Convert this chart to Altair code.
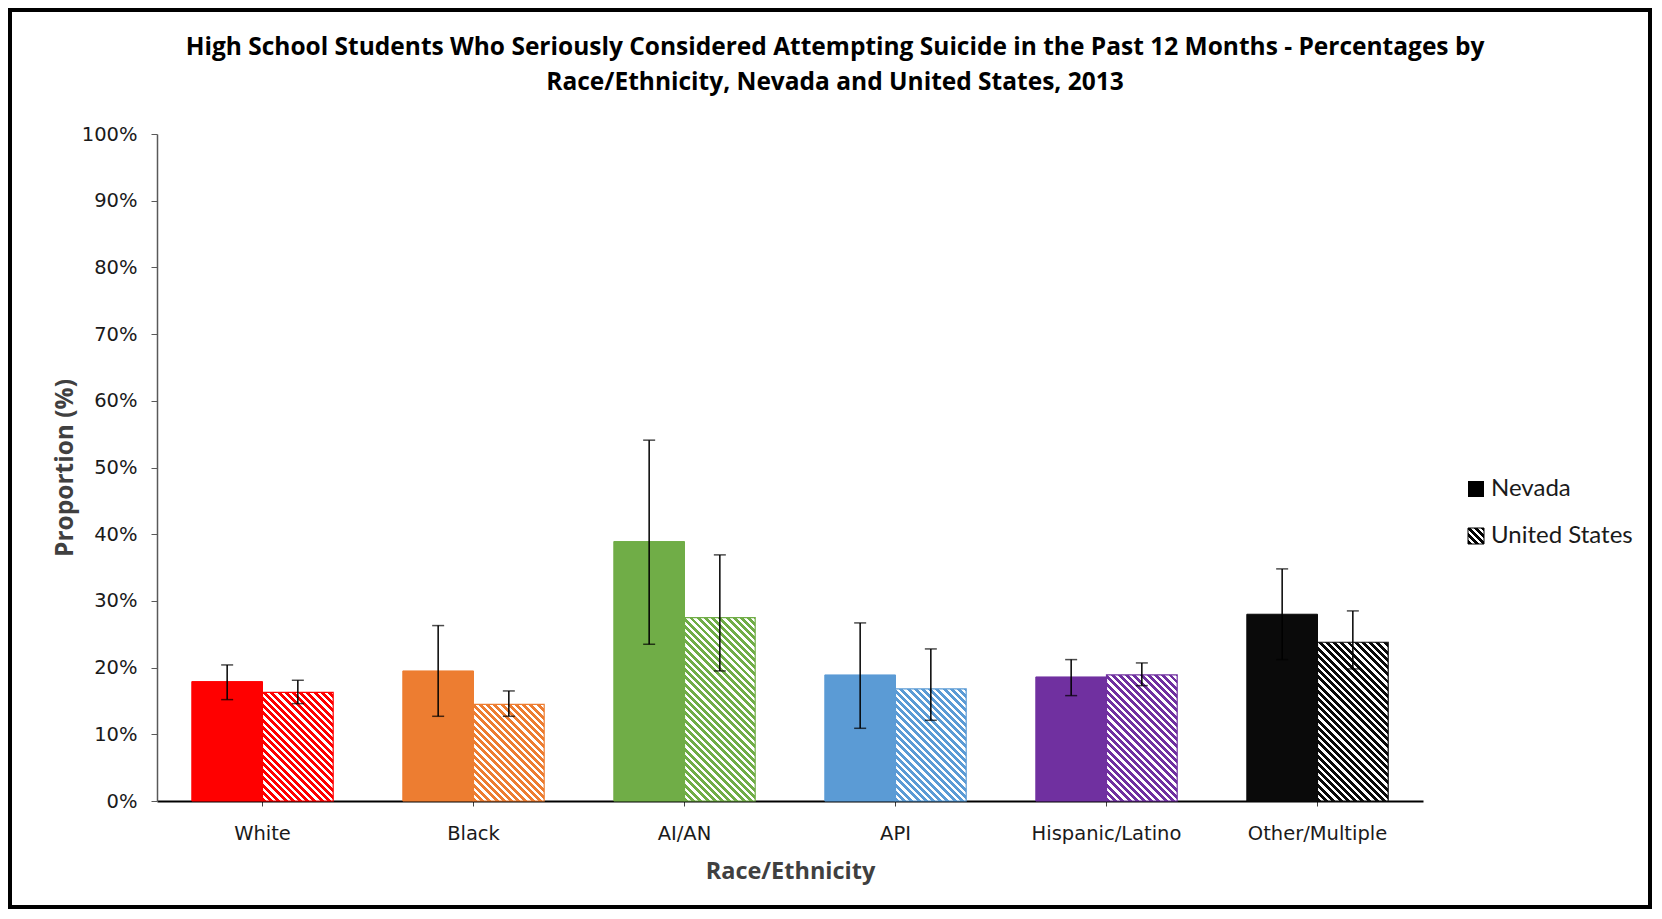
import altair as alt
import pandas as pd

categories = ["White", "Black", "AI/AN", "API", "Hispanic/Latino", "Other/Multiple"]
series = ["Nevada", "United States"]
nevada = [17.9, 19.5, 38.9, 18.9, 18.6, 28.0]
nevada_lo = [15.2, 12.7, 23.5, 10.9, 15.8, 21.2]
nevada_hi = [20.4, 26.3, 54.1, 26.7, 21.2, 34.8]
us = [16.3, 14.5, 27.5, 16.8, 18.9, 23.8]
us_lo = [14.6, 12.7, 19.5, 12.1, 17.3, 19.8]
us_hi = [18.1, 16.5, 36.9, 22.8, 20.7, 28.5]
colors = ["#FF0000", "#ED7D31", "#70AD47", "#5B9BD5", "#7030A0", "#0A0A0A"]
y_ticks = list(range(0, 101, 10))
title_lines = [
    "High School Students Who Seriously Considered Attempting Suicide in the Past 12 Months - Percentages by",
    "Race/Ethnicity, Nevada and United States, 2013",
]

W, H = 1266, 667
PAD_IN = 0.33
step = W / len(categories)
bar_w = step * (1 - PAD_IN) / 2

rows = []
for i, c in enumerate(categories):
    rows.append({"category": c, "series": "Nevada", "value": nevada[i], "lo": nevada_lo[i], "hi": nevada_hi[i]})
    rows.append({"category": c, "series": "United States", "value": us[i], "lo": us_lo[i], "hi": us_hi[i]})
df = pd.DataFrame(rows)


def hatch(color, w, h, period=5.1, frac=0.55):
    """45-degree downward-diagonal stripes as a linear gradient (bounding-box units)."""
    L = (w + h) / 2 ** 0.5
    stops = []
    k = 0
    while k * period / L < 1:
        a = k * period / L
        b = min((k + frac) * period / L, 1.0)
        c = min((k + 1) * period / L, 1.0)
        stops += [
            alt.GradientStop(offset=a, color=color),
            alt.GradientStop(offset=b, color=color),
            alt.GradientStop(offset=b, color="white"),
            alt.GradientStop(offset=c, color="white"),
        ]
        k += 1
    kk = (w + h) / (w * w + h * h)
    return alt.Gradient(
        gradient="linear", stops=stops,
        x1=0, y1=1, x2=w * kk, y2=1 - h * kk,
    )


x_enc = alt.X(
    "category:N", sort=categories,
    scale=alt.Scale(domain=categories, paddingInner=PAD_IN, paddingOuter=PAD_IN / 2),
    axis=alt.Axis(
        title="Race/Ethnicity", labelAngle=0, labelFont="DejaVu Sans", labelFontSize=19.5,
        labelColor="#1a1a1a", labelPadding=18, tickSize=5, tickColor="#404040",
        domainColor="#000000", domainWidth=2, titleFont="Open Sans", titleFontSize=23.5,
        titleFontWeight="bold", titleColor="#404040", titlePadding=17,
    ),
)
xo_enc = alt.XOffset("series:N", sort=series, scale=alt.Scale(domain=series, paddingInner=0, paddingOuter=0))
y_scale = alt.Scale(domain=[0, 100], nice=False)
y_axis = alt.Axis(
    values=y_ticks, labelExpr="datum.value + '%'", grid=False, title="Proportion (%)",
    labelFont="DejaVu Sans", labelFontSize=19.5, labelColor="#1a1a1a", labelPadding=14,
    tickSize=6, tickColor="#595959", domainColor="#595959", domainWidth=1.5,
    titleFont="Open Sans", titleFontSize=24.5, titleFontWeight="bold", titleColor="#404040",
    titlePadding=4,
)

base = alt.Chart(df)

nv_bars = base.transform_filter(alt.datum.series == "Nevada").mark_bar(strokeWidth=1).encode(
    x=x_enc, xOffset=xo_enc,
    y=alt.Y("value:Q", scale=y_scale, axis=y_axis),
    color=alt.Color("category:N", scale=alt.Scale(domain=categories, range=colors), legend=None),
    stroke=alt.Stroke("category:N", scale=alt.Scale(domain=categories, range=colors), legend=None),
)

us_layers = []
for i, c in enumerate(categories):
    h = us[i] / 100 * H
    us_layers.append(
        base.transform_filter((alt.datum.series == "United States") & (alt.datum.category == c))
        .mark_bar(fill=hatch(colors[i], bar_w, h), stroke=colors[i], strokeWidth=1.2)
        .encode(x=x_enc, xOffset=xo_enc, y=alt.Y("value:Q", scale=y_scale, axis=y_axis))
    )

err_rule = base.mark_rule(color="black", strokeWidth=1.5).encode(
    x=x_enc, xOffset=xo_enc,
    y=alt.Y("lo:Q", scale=y_scale, axis=y_axis), y2="hi:Q",
)
cap_lo = base.mark_tick(color="black", thickness=1.5, size=12, orient="horizontal").encode(
    x=x_enc, xOffset=xo_enc, y=alt.Y("lo:Q", scale=y_scale, axis=y_axis)
)
cap_hi = base.mark_tick(color="black", thickness=1.5, size=12, orient="horizontal").encode(
    x=x_enc, xOffset=xo_enc, y=alt.Y("hi:Q", scale=y_scale, axis=y_axis)
)

# legend (drawn manually to show the hatch)
LX, LY1, LY2, S = 1319, 355, 402, 16
leg_nv = alt.Chart(alt.Data(values=[{"label": series[0]}])).mark_rect(fill="black").encode(
    x=alt.value(LX - S / 2), x2=alt.value(LX + S / 2), y=alt.value(LY1 - S / 2), y2=alt.value(LY1 + S / 2)
)
leg_us = alt.Chart(alt.Data(values=[{"label": series[1]}])).mark_rect(
    fill=hatch("black", S, S, period=5.0, frac=0.6), stroke="black", strokeWidth=1
).encode(
    x=alt.value(LX - S / 2), x2=alt.value(LX + S / 2), y=alt.value(LY2 - S / 2), y2=alt.value(LY2 + S / 2)
)
leg_t1 = alt.Chart(alt.Data(values=[{"label": series[0]}])).mark_text(
    align="left", baseline="middle", font="Lato", fontSize=24, color="#1a1a1a"
).encode(x=alt.value(LX + 15), y=alt.value(LY1), text="label:N")
leg_t2 = alt.Chart(alt.Data(values=[{"label": series[1]}])).mark_text(
    align="left", baseline="middle", font="Lato", fontSize=24, color="#1a1a1a"
).encode(x=alt.value(LX + 15), y=alt.value(LY2), text="label:N")

# chart title as text marks
title_1 = alt.Chart(alt.Data(values=[{"t": title_lines[0]}])).mark_text(
    align="center", baseline="middle", font="Open Sans", fontSize=24.5, fontWeight="bold", color="black"
).encode(x=alt.value(678), y=alt.value(-86), text="t:N")
title_2 = alt.Chart(alt.Data(values=[{"t": title_lines[1]}])).mark_text(
    align="center", baseline="middle", font="Open Sans", fontSize=24.5, fontWeight="bold", color="black"
).encode(x=alt.value(678), y=alt.value(-51), text="t:N")

PL, PT, PR, PB = 149, 126, 229, 108
border = alt.Chart(alt.Data(values=[{"b": 1}])).mark_rect(
    filled=False, stroke="black", strokeWidth=4
).encode(
    x=alt.value(-PL + 2), x2=alt.value(W + PR - 2), y=alt.value(-PT + 2), y2=alt.value(H + PB - 2)
)

chart = alt.layer(
    nv_bars, *us_layers, err_rule, cap_lo, cap_hi, leg_nv, leg_us, leg_t1, leg_t2,
    title_1, title_2, border
).properties(
    width=W, height=H,
    padding={"left": PL, "top": PT, "right": PR, "bottom": PB},
    autosize=alt.AutoSizeParams(type="none"),
).configure(background="white").configure_view(stroke=None)

chart.save("out.html", embed_options={"renderer": "svg", "actions": False})
